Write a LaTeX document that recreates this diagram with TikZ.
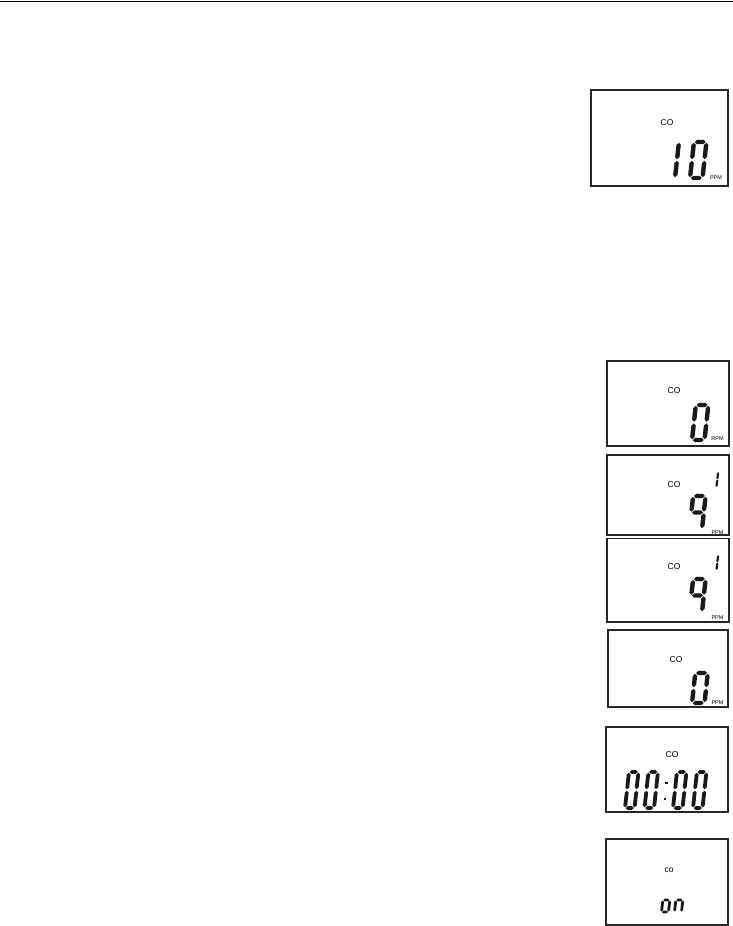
\documentclass[tikz,border=0pt]{standalone}
\usepackage{fontspec}
\setmainfont{Liberation Sans}
\begin{document}
\begin{tikzpicture}[x=1pt,y=-1pt,
  lcd/.style={draw=black!85,line width=1.1pt},
  lbl/.style={inner sep=0pt,font=\fontsize{8.5}{8.5}\selectfont},
  unit/.style={inner sep=0pt,font=\fontsize{5.5}{5.5}\selectfont},
  seg/.style={fill=black!90}]
\useasboundingbox (0,0) rectangle (733,926);
% segment primitives (local coords, y up)
\newcommand\hsg[3]{\fill[seg] ({#1},{#3}) -- ({#1+\T/2},{#3+\T/2}) -- ({#2-\T/2},{#3+\T/2}) -- ({#2},{#3}) -- ({#2-\T/2},{#3-\T/2}) -- ({#1+\T/2},{#3-\T/2}) -- cycle;}
\newcommand\vsg[3]{\fill[seg] ({#1},{#2}) -- ({#1+\T/2},{#2+\T/2}) -- ({#1+\T/2},{#3-\T/2}) -- ({#1},{#3}) -- ({#1-\T/2},{#3-\T/2}) -- ({#1-\T/2},{#2+\T/2}) -- cycle;}
\newcommand\sgA{\hsg{\G}{\W-\G}{\H}}
\newcommand\sgD{\hsg{\G}{\W-\G}{0}}
\newcommand\sgG{\hsg{\G}{\W-\G}{\H/2}}
\newcommand\sgF{\vsg{0}{\H/2+\G}{\H-\G}}
\newcommand\sgE{\vsg{0}{\G}{\H/2-\G}}
\newcommand\sgB{\vsg{\W}{\H/2+\G}{\H-\G}}
\newcommand\sgC{\vsg{\W}{\G}{\H/2-\G}}
\newcommand\lcddigit[3]{\begin{scope}[shift={(#1,#2)},x=1pt,y=1pt,xslant=0.11]#3\end{scope}}
\newcommand\setdig[4]{\def\W{#1}\def\H{#2}\def\T{#3}\def\G{#4}}

% top rule
\coordinate (tl) at (0,1.5);
\coordinate (tr) at (733,1.5);
\draw[line width=1.6pt] (tl) -- (tr);

% box 1
\node[lcd,inner sep=0pt,minimum width=137pt,minimum height=96pt] (b1) at (659.5,138) {};
\node[lbl] (co1) at (667,123) {CO};
\node[unit] (u1) at (716,177.5) {PPM};
\setdig{12.5}{36}{4.4}{0.8}
\lcddigit{662.5}{178}{\sgB\sgC}
\lcddigit{690}{178}{\sgA\sgB\sgC\sgD\sgE\sgF}

% box 2
\node[lcd,inner sep=0pt,minimum width=122pt,minimum height=85pt] (b2) at (668,403.5) {};
\node[lbl] (co2) at (674,391) {CO};
\node[unit] (u2) at (717.5,438.5) {RPM};
\setdig{12.5}{35}{4.4}{0.8}
\lcddigit{692}{440}{\sgA\sgB\sgC\sgD\sgE\sgF}

% box 3a
\node[lcd,inner sep=0pt,minimum width=122pt,minimum height=80pt] (b3) at (668,495) {};
\node[lbl] (co3) at (674,485) {CO};
\node[unit] (u3) at (717.5,532.5) {PPM};
\setdig{12.5}{33}{4.4}{0.8}
\lcddigit{689.5}{529}{\sgA\sgB\sgC\sgF\sgG}
\setdig{5}{15}{2.2}{0.2}
\lcddigit{711.5}{487}{\sgB\sgC}

% box 3b
\node[lcd,inner sep=0pt,minimum width=122pt,minimum height=83.5pt] (b4) at (668,580.25) {};
\node[lbl] (co4) at (674,567) {CO};
\node[unit] (u4) at (717.5,618) {PPM};
\setdig{12.5}{33}{4.4}{0.8}
\lcddigit{689.5}{612}{\sgA\sgB\sgC\sgF\sgG}
\setdig{5}{15}{2.2}{0.2}
\lcddigit{711.5}{570}{\sgB\sgC}

% box 4
\node[lcd,inner sep=0pt,minimum width=120pt,minimum height=77pt] (b5) at (668,668.5) {};
\node[lbl] (co5) at (676,660) {CO};
\node[unit] (u5) at (717.5,702.5) {PPM};
\setdig{12.5}{30}{4.4}{0.8}
\lcddigit{692}{703}{\sgA\sgB\sgC\sgD\sgE\sgF}

% box 5
\node[lcd,inner sep=0pt,minimum width=122pt,minimum height=85pt] (b6) at (667,769.5) {};
\node[lbl] (co6) at (672,755) {CO};
\setdig{9.5}{36}{3.8}{0.7}
\lcddigit{625}{808}{\sgA\sgB\sgC\sgD\sgE\sgF}
\lcddigit{644.5}{808}{\sgA\sgB\sgC\sgD\sgE\sgF}
\lcddigit{673}{808}{\sgA\sgB\sgC\sgD\sgE\sgF}
\lcddigit{693}{808}{\sgA\sgB\sgC\sgD\sgE\sgF}
\fill[seg] (665.4,782) rectangle (667.8,784.4);
\fill[seg] (663.8,798) rectangle (666.2,800.4);

% box 6
\node[lcd,inner sep=0pt,minimum width=122pt,minimum height=86pt] (b7) at (667,882) {};
\node[lbl] (co7) at (669,870) {co};
\setdig{7}{24}{2.8}{0.5}
\lcddigit{661.5}{912}{\sgG\sgC\sgD\sgE}
\lcddigit{674.5}{912}{\sgG\sgC\sgE}
\end{tikzpicture}
\end{document}
